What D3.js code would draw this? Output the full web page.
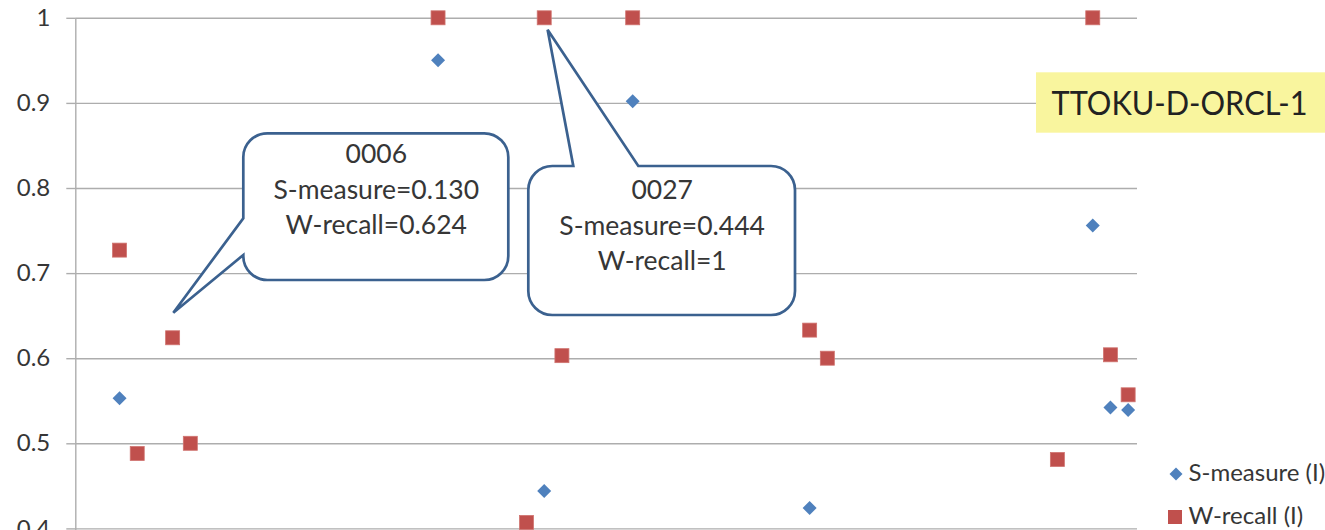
<!DOCTYPE html>
<html>
<head>
<meta charset="utf-8">
<script src="https://cdn.jsdelivr.net/npm/d3@7"></script>
<style>
  html, body { margin: 0; padding: 0; background: #fff; }
  svg { display: block; font-family: Lato, "Open Sans", sans-serif; }
</style>
</head>
<body>
<svg id="chart" width="1325" height="530"></svg>
<script>
// Run identifiers along the category axis (1..60)
const categories = d3.range(1, 61);

// S-measure (I): run id -> value
const sIds    = [3, 6, 21, 27, 32, 42, 58, 59, 60];
const sValues = [0.553, 0.130, 0.950, 0.444, 0.902, 0.424, 0.756, 0.542, 0.539];

// W-recall (I): run id -> value
const wIds    = [3, 4, 6, 7, 21, 26, 27, 28, 32, 42, 43, 56, 58, 59, 60];
const wValues = [0.727, 0.488, 0.624, 0.500, 1, 0.407, 1, 0.603, 1, 0.633, 0.600, 0.481, 1, 0.604, 0.557];

// Y-axis ticks
const yTicks = [0, 0.1, 0.2, 0.3, 0.4, 0.5, 0.6, 0.7, 0.8, 0.9, 1];

// Highlighted runs
const calloutIds = [6, 27];
const chartTag = "TTOKU-D-ORCL-1";
const seriesNames = ["S-measure (I)", "W-recall (I)"];

const BLUE = "#4F81BD", RED = "#C0504D", OUTLINE = "#3B618F", GRID = "#ADADAD", TEXT = "#363636";

const svg = d3.select("#chart");
const plot = { left: 75.3, right: 1137, top: 17.8, bottom: 868.8 };

const x = d3.scaleBand().domain(categories).range([plot.left, plot.right]);
const cx = id => x(id) + x.bandwidth() / 2;
const y = d3.scaleLinear().domain([0, 1]).range([plot.bottom, plot.top]);

// Horizontal gridlines
const grid = svg.append("g")
  .attr("transform", `translate(${plot.left},0)`)
  .call(d3.axisLeft(y).tickValues(yTicks).tickSize(-(plot.right - plot.left)).tickFormat(""));
grid.select(".domain").remove();
grid.selectAll(".tick line").attr("stroke", GRID).attr("stroke-width", 1.4);

// Y axis with outside tick marks and labels
const yAxis = svg.append("g")
  .attr("transform", `translate(${plot.left},0)`)
  .call(d3.axisLeft(y).tickValues(yTicks).tickSize(9).tickSizeOuter(0).tickPadding(16)
    .tickFormat(d => d === 1 ? "1" : d3.format(".1f")(d)));
yAxis.select(".domain").attr("stroke", GRID).attr("stroke-width", 1.4);
yAxis.selectAll(".tick line").attr("stroke", GRID).attr("stroke-width", 1.4);
yAxis.selectAll(".tick text")
  .attr("font-size", 24).attr("fill", TEXT).attr("font-family", "Lato, sans-serif");

const sData = sIds.map((id, i) => ({ id, v: sValues[i] }));
const wData = wIds.map((id, i) => ({ id, v: wValues[i] }));

const diamond = s => `M0,${-s}L${s},0L0,${s}L${-s},0Z`;

// W-recall markers (squares)
svg.append("g").selectAll("rect").data(wData).join("rect")
  .attr("x", d => cx(d.id) - 7).attr("y", d => y(d.v) - 7)
  .attr("width", 14).attr("height", 14)
  .attr("fill", RED).attr("stroke", "#D07470").attr("stroke-width", 0.8);

// S-measure markers (diamonds)
svg.append("g").selectAll("path").data(sData).join("path")
  .attr("transform", d => `translate(${cx(d.id)},${y(d.v)})`)
  .attr("d", diamond(7))
  .attr("fill", BLUE);

// Callouts
const fmtVal = v => v === 1 ? "1" : d3.format(".3f")(v);
const lookup = (ids, vals, id) => vals[ids.indexOf(id)];

function calloutLines(id) {
  return [
    d3.format("04d")(id),
    "S-measure=" + fmtVal(lookup(sIds, sValues, id)),
    "W-recall=" + fmtVal(lookup(wIds, wValues, id))
  ];
}

// Box with a tail on its left side
function leftTailPath(b, tip, t0, t1) {
  const { x: bx, y: by, w, h, r } = b;
  return `M${bx + r},${by}H${bx + w - r}A${r},${r} 0 0 1 ${bx + w},${by + r}` +
    `V${by + h - r}A${r},${r} 0 0 1 ${bx + w - r},${by + h}` +
    `H${bx + r}A${r},${r} 0 0 1 ${bx},${by + h - r}` +
    `V${by + t1}L${tip[0]},${tip[1]}L${bx},${by + t0}` +
    `V${by + r}A${r},${r} 0 0 1 ${bx + r},${by}Z`;
}

// Box with a tail on its top side
function topTailPath(b, tip, t0, t1) {
  const { x: bx, y: by, w, h, r } = b;
  return `M${bx + r},${by}H${bx + t0}L${tip[0]},${tip[1]}L${bx + t1},${by}` +
    `H${bx + w - r}A${r},${r} 0 0 1 ${bx + w},${by + r}` +
    `V${by + h - r}A${r},${r} 0 0 1 ${bx + w - r},${by + h}` +
    `H${bx + r}A${r},${r} 0 0 1 ${bx},${by + h - r}` +
    `V${by + r}A${r},${r} 0 0 1 ${bx + r},${by}Z`;
}

const callouts = [
  { id: calloutIds[0], box: { x: 243.3, y: 133.3, w: 265, h: 146.7, r: 24 },
    tipOff: [0.7, -25], side: "left", t: [85, 121.7], firstBaseline: 30 },
  { id: calloutIds[1], box: { x: 528.3, y: 166, w: 266.7, h: 149, r: 24 },
    tipOff: [3.4, 12], side: "top", t: [45, 110], firstBaseline: 33 }
];

callouts.forEach(c => {
  const wv = lookup(wIds, wValues, c.id);
  const tip = [cx(c.id) + c.tipOff[0], y(wv) + c.tipOff[1]];
  const d = c.side === "left" ? leftTailPath(c.box, tip, c.t[0], c.t[1])
                              : topTailPath(c.box, tip, c.t[0], c.t[1]);
  const g = svg.append("g");
  g.append("path").attr("d", d)
    .attr("fill", "#fff").attr("stroke", OUTLINE).attr("stroke-width", 2.7)
    .attr("stroke-linejoin", "miter");
  g.selectAll("text").data(calloutLines(c.id)).join("text")
    .attr("x", c.box.x + c.box.w / 2 + 0.5)
    .attr("y", (t, i) => c.box.y + c.firstBaseline + i * 35.5)
    .attr("text-anchor", "middle")
    .attr("font-size", 26.5).attr("fill", TEXT)
    .text(t => t);
});

// Run tag
const tag = svg.append("g");
tag.append("rect").attr("x", 1036).attr("y", 72.3).attr("width", 300).attr("height", 60.4)
  .attr("fill", "#F9F59E");
tag.append("text").attr("x", 1051.5).attr("y", 114.5)
  .attr("font-size", 33).attr("fill", "#222")
  .attr("textLength", 256).attr("lengthAdjust", "spacingAndGlyphs")
  .text(chartTag);

// Legend
const legend = svg.append("g");
legend.append("path").attr("transform", "translate(1176,474)").attr("d", diamond(6.5)).attr("fill", BLUE);
legend.append("rect").attr("x", 1168).attr("y", 510).attr("width", 14).attr("height", 14).attr("fill", RED);
legend.selectAll("text").data(seriesNames).join("text")
  .attr("x", 1188.5).attr("y", (d, i) => 481 + i * 43)
  .attr("font-size", 24).attr("fill", TEXT).text(d => d);
</script>
</body>
</html>
